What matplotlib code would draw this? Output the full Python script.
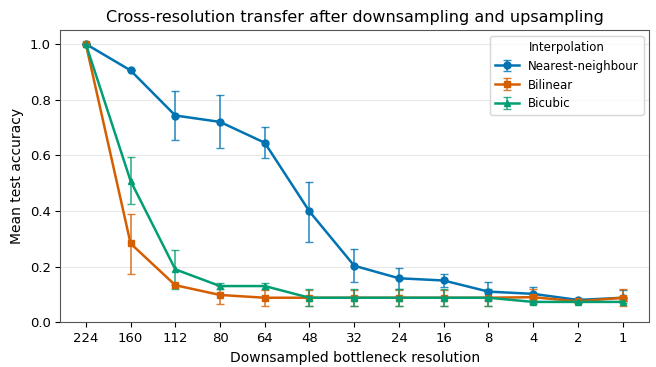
import matplotlib
matplotlib.use("Agg")
import matplotlib.pyplot as plt
import numpy as np

resolutions = ["224", "160", "112", "80", "64", "48", "32", "24", "16", "8", "4", "2", "1"]

nearest = [1.0, 0.905, 0.743, 0.720, 0.645, 0.398, 0.203, 0.158, 0.150, 0.110, 0.102, 0.080, 0.088]
nearest_lo = [1.0, 0.905, 0.655, 0.628, 0.590, 0.290, 0.145, 0.120, 0.125, 0.080, 0.085, 0.075, 0.075]
nearest_hi = [1.0, 0.905, 0.830, 0.815, 0.703, 0.505, 0.262, 0.195, 0.175, 0.145, 0.125, 0.088, 0.115]

bilinear = [1.0, 0.283, 0.133, 0.098, 0.088, 0.088, 0.088, 0.088, 0.088, 0.088, 0.090, 0.075, 0.088]
bilinear_lo = [1.0, 0.175, 0.133, 0.065, 0.060, 0.060, 0.060, 0.060, 0.060, 0.060, 0.065, 0.070, 0.060]
bilinear_hi = [1.0, 0.390, 0.133, 0.130, 0.115, 0.115, 0.115, 0.115, 0.115, 0.115, 0.120, 0.080, 0.118]

bicubic = [1.0, 0.508, 0.190, 0.130, 0.130, 0.088, 0.088, 0.088, 0.088, 0.088, 0.073, 0.073, 0.073]
bicubic_lo = [1.0, 0.425, 0.120, 0.120, 0.120, 0.060, 0.060, 0.060, 0.060, 0.060, 0.068, 0.068, 0.068]
bicubic_hi = [1.0, 0.595, 0.260, 0.140, 0.140, 0.120, 0.120, 0.120, 0.120, 0.120, 0.078, 0.078, 0.078]

series = [
    ("Nearest-neighbour", nearest, nearest_lo, nearest_hi, "#0173b2", "o"),
    ("Bilinear", bilinear, bilinear_lo, bilinear_hi, "#d55e00", "s"),
    ("Bicubic", bicubic, bicubic_lo, bicubic_hi, "#029e73", "^"),
]

fig, ax = plt.subplots(figsize=(6.56, 3.67), dpi=100)
fig.subplots_adjust(left=0.092, right=0.99, top=0.918, bottom=0.122)
x = np.arange(len(resolutions))
for name, v, lo, hi, c, m in series:
    v = np.array(v); lo = np.array(lo); hi = np.array(hi)
    line, caps, bars = ax.errorbar(x, v, yerr=[v - lo, hi - v], color=c, marker=m, markersize=5,
                linewidth=1.8, capsize=3, elinewidth=1.2, ecolor=c, label=name)
    for b in bars:
        b.set_alpha(0.8)
    for cp in caps:
        cp.set_alpha(0.8)

ax.set_xticks(x)
ax.set_xticklabels(resolutions)
ax.set_xlim(-0.57, 12.6)
ax.set_ylim(0, 1.05)
ax.set_yticks([0, 0.2, 0.4, 0.6, 0.8, 1.0])
ax.yaxis.grid(True, color="#e8e8e8", linewidth=0.8)
ax.set_axisbelow(True)
for s in ax.spines.values():
    s.set_color("#555555")
ax.set_title("Cross-resolution transfer after downsampling and upsampling", fontsize=11.5)
ax.set_xlabel("Downsampled bottleneck resolution", fontsize=10)
ax.set_ylabel("Mean test accuracy", fontsize=10)
ax.tick_params(labelsize=9.5)
ax.legend(title="Interpolation", loc="upper right", fontsize=8.5, title_fontsize=8.5)
fig.savefig("out.png", dpi=100)
